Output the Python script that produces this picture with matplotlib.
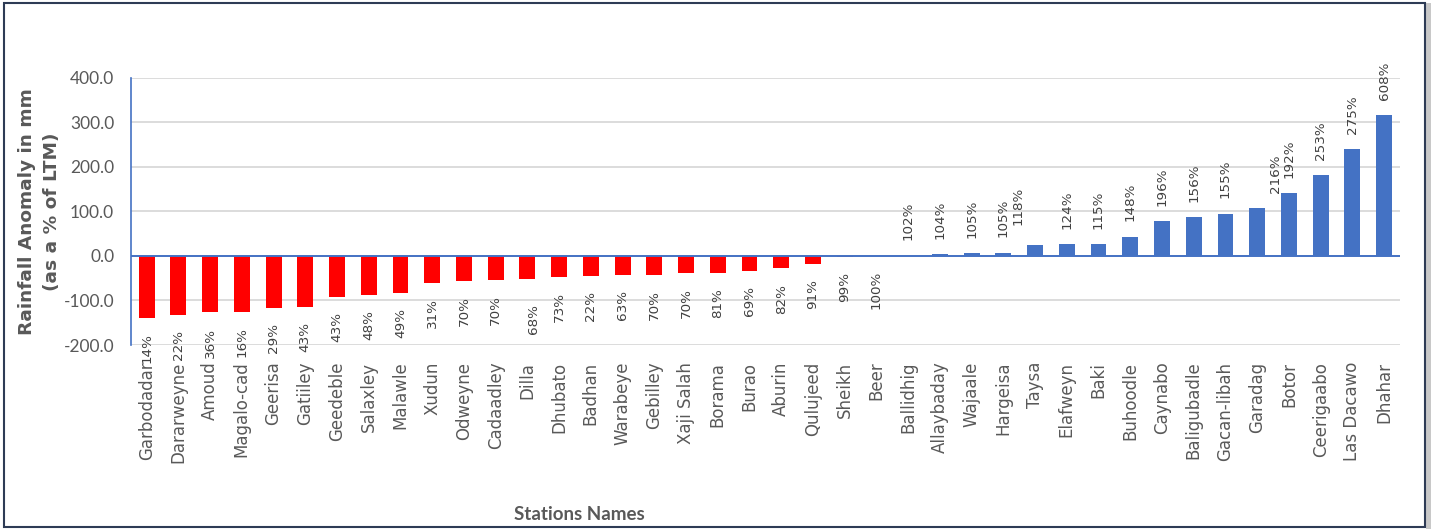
import numpy as np
import matplotlib
matplotlib.use("Agg")
import matplotlib.pyplot as plt
from matplotlib.patches import Rectangle

plt.rcParams['axes.unicode_minus'] = False

# rainfall anomaly (mm) per station, sorted driest -> wettest
stations = ['Garbodadar', 'Dararweyne', 'Amoud', 'Magalo-cad', 'Geerisa', 'Gatiiley',
            'Geedeble', 'Salaxley', 'Malawle', 'Xudun', 'Odweyne', 'Cadaadley', 'Dilla',
            'Dhubato', 'Badhan', 'Warabeye', 'Gebilley', 'Xaji Salah', 'Borama', 'Burao',
            'Aburin', 'Qulujeed', 'Sheikh', 'Beer', 'Ballidhig', 'Allaybaday', 'Wajaale',
            'Hargeisa', 'Taysa', 'Elafweyn', 'Baki', 'Buhoodle', 'Caynabo', 'Baligubadle',
            'Gacan-libah', 'Garadag', 'Botor', 'Ceerigaabo', 'Las Dacawo', 'Dhahar']
anomaly = [-140, -132.5, -127, -126, -116, -114,
           -92, -88.5, -82.5, -60, -55.5, -54, -51,
           -47, -45, -43, -42, -39, -39, -34,
           -28, -18, -2.5, 0, 0.5, 4.5, 6,
           7.5, 25.5, 27, 27, 43, 78, 87.5,
           95, 107, 141, 181, 240, 315.5]
# seasonal total as a percentage of the long term mean
pct_ltm = ['14%', '22%', '36%', '16%', '29%', '43%',
           '43%', '48%', '49%', '31%', '70%', '70%', '68%',
           '73%', '22%', '63%', '70%', '70%', '81%', '69%',
           '82%', '91%', '99%', '100%', '102%', '104%', '105%',
           '105%', '118%', '124%', '115%', '148%', '196%', '156%',
           '155%', '216%', '192%', '253%', '275%', '608%']

# a few labels were nudged by hand (pixels: dx, dy)
label_nudge = {'Dilla': (6, -10), 'Taysa': (-17, 4), 'Garadag': (18, 0)}

RED = '#FF0000'
BLUE = '#4472C4'
GREY_TXT = '#595959'

fig = plt.figure(figsize=(14.31, 5.29), dpi=100)
ax = fig.add_axes([0.0914, 0.3478, 0.8869, 0.5053])

x = np.arange(len(stations))
vals = np.array(anomaly)
colors = [RED if v < 0 else BLUE for v in vals]
ax.bar(x, vals, width=0.5, color=colors, zorder=3)

for i, (v, lab) in enumerate(zip(vals, pct_ltm)):
    dx, dy = label_nudge.get(stations[i], (0, 0))
    if v < 0 or lab == '100%':
        off = (dx * 0.72, -11 + dy * 0.72)
        va = 'top'
    else:
        off = (dx * 0.72, 11 + dy * 0.72)
        va = 'bottom'
    ax.annotate(lab, (i, v), xytext=off, textcoords='offset points',
                rotation=90, ha='center', va=va, fontsize=9.7,
                color='#404040', annotation_clip=False, zorder=4)

ax.set_xlim(-0.5, len(stations) - 0.5)
ax.set_ylim(-200, 400)
ax.set_yticks(np.arange(-200, 401, 100))
ax.yaxis.set_major_formatter(matplotlib.ticker.FormatStrFormatter('%.1f'))
ax.set_xticks(x)
ax.set_xticklabels(stations, rotation=90, fontsize=12, color=GREY_TXT)
for t in ax.get_yticklabels():
    t.set_fontfamily('Lato')
    t.set_fontsize(12.5)
    t.set_color(GREY_TXT)
ax.tick_params(axis='both', length=0)
ax.tick_params(axis='y', pad=12)
ax.tick_params(axis='x', pad=12)

ax.grid(axis='y', color='#D9D9D9', linewidth=1.3, zorder=0)
ax.axhline(0, color=BLUE, linewidth=1.4, zorder=5)
for side in ['top', 'right', 'bottom']:
    ax.spines[side].set_visible(False)
ax.spines['left'].set_color(BLUE)
ax.spines['left'].set_linewidth(1.2)

fig.text(0.0275, 0.60, 'Rainfall Anomaly in mm\n(as a % of LTM)', rotation=90,
         ha='center', va='center', multialignment='center', fontsize=13.3,
         fontweight='bold', color=GREY_TXT, linespacing=1.55)
fig.text(0.405, 0.028, 'Stations Names', ha='center', va='center', fontsize=13.5,
         fontweight='bold', color=GREY_TXT, family='Lato')

# chart border and drop shadow
fig.patches.append(Rectangle((1426 / 1431, 0), 5 / 1431, 0.995, transform=fig.transFigure,
                             facecolor='#C8C8C8', edgecolor='none', zorder=0))
fig.patches.append(Rectangle((4 / 1431, 2 / 529), 1421 / 1431, 524 / 529,
                             transform=fig.transFigure, facecolor='none',
                             edgecolor='#2E3B55', linewidth=1.5, zorder=1))

fig.savefig('out.png', dpi=100, facecolor='white')
